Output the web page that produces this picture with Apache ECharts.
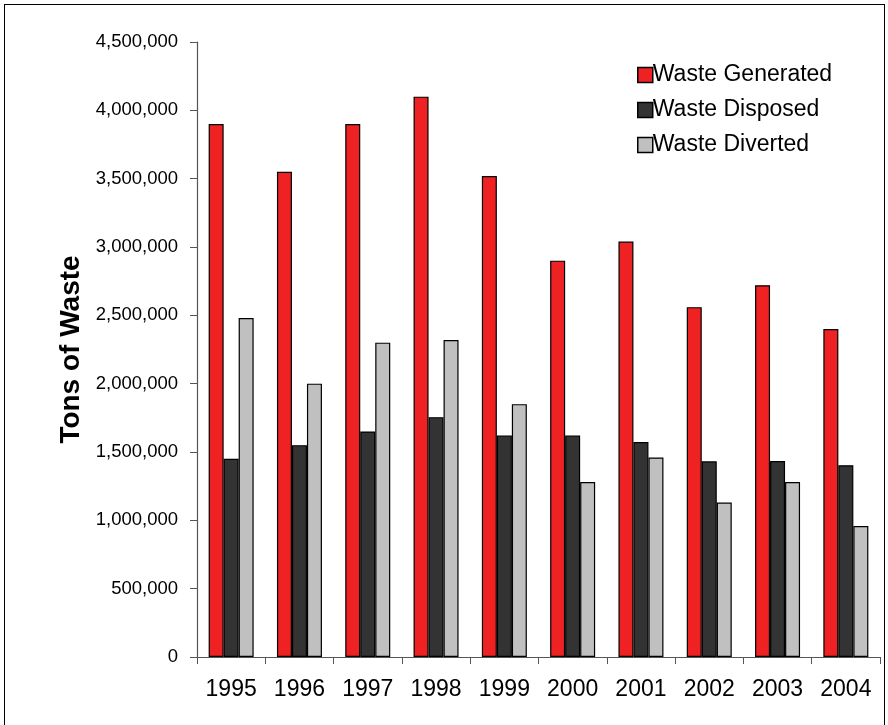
<!DOCTYPE html>
<html><head><meta charset="utf-8">
<script src="https://cdn.jsdelivr.net/npm/echarts@6/dist/echarts.min.js"></script>
<style>
html,body{margin:0;padding:0;background:#fff;overflow:hidden;}
#c{width:888px;height:725px;}
#frame{position:absolute;left:4px;top:4px;width:879px;height:730px;border:1px solid #000;pointer-events:none;}
</style></head>
<body><div id="c"></div><div id="frame"></div>
<script>
const years = ['1995','1996','1997','1998','1999','2000','2001','2002','2003','2004'];
const generated = [3900000,3550000,3900000,4100000,3520000,2900000,3040000,2560000,2720000,2400000];
const disposed = [1450000,1550000,1650000,1755000,1620000,1620000,1573000,1432000,1434000,1403000];
const diverted = [2480000,2000000,2300000,2320000,1850000,1280000,1460000,1130000,1280000,958000];

const chart = echarts.init(document.getElementById('c'));
const font = 'Liberation Sans, Arial, sans-serif';
const bar = (name, data, color) => ({
  name, type:'bar', data, barWidth:15, barGap:'0%', barCategoryGap:'33%',
  itemStyle:{color, borderColor:'#000', borderWidth:1.2}
});
chart.setOption({
  animation:false,
  grid:{left:197, right:8, top:42, bottom:68},
  legend:{
    orient:'vertical', left:632, top:58, itemWidth:15, itemHeight:15, itemGap:11,
    icon:'rect',
    textStyle:{fontFamily:font, fontSize:23, lineHeight:24, color:'#000', padding:[0,0,0,-5]},
    itemStyle:{borderColor:'#000', borderWidth:1.5}
  },
  xAxis:{
    type:'category', data:years,
    axisLine:{lineStyle:{color:'#555', width:1.2}},
    axisTick:{show:true, length:7, alignWithLabel:false, lineStyle:{color:'#555'}},
    axisLabel:{fontFamily:font, fontSize:23, color:'#000', margin:21}
  },
  yAxis:{
    type:'value', min:0, max:4500000, interval:500000,
    name:'Tons of Waste', nameLocation:'middle', nameGap:112,
    nameTextStyle:{fontFamily:font, fontSize:28, fontWeight:'bold', color:'#000'},
    axisLine:{show:true, lineStyle:{color:'#555', width:1.2}},
    axisTick:{show:true, inside:false, length:7, lineStyle:{color:'#555'}},
    splitLine:{show:false},
    axisLabel:{fontFamily:font, fontSize:18.5, color:'#000', margin:19,
      formatter:v=>v.toLocaleString('en-US')}
  },
  series:[
    bar('Waste Generated', generated, '#EE2222'),
    bar('Waste Disposed', disposed, '#333333'),
    bar('Waste Diverted', diverted, '#C0C0C0')
  ]
});
</script></body></html>
